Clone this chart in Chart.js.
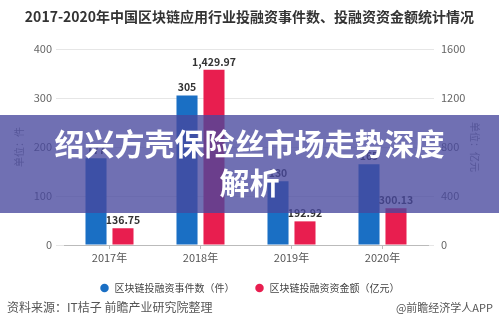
<!DOCTYPE html>
<html>
<head>
<meta charset="utf-8">
<script src="https://cdn.jsdelivr.net/npm/chart.js@4/dist/chart.umd.min.js"></script>
<style>
html,body{margin:0;padding:0;background:#fff;}
#wrap{position:relative;width:499px;height:329px;overflow:hidden;font-family:"Noto Sans CJK SC","Noto Sans",sans-serif;}
#chart{position:absolute;left:0;top:0;}
.title{position:absolute;top:6px;left:0;width:499px;text-align:center;font-size:14px;font-weight:bold;color:#333;line-height:20px;}
.src{position:absolute;top:298px;left:7px;font-size:12px;color:#555;line-height:18px;}
.app{position:absolute;top:298px;right:6px;font-size:11px;color:#555;line-height:18px;}
.banner{position:absolute;left:0;top:115px;width:499px;height:98px;background:rgba(72,72,158,0.78);color:#fff;font-weight:bold;font-size:30px;line-height:39px;text-align:center;box-sizing:border-box;padding-top:8px;}
</style>
</head>
<body>
<div id="wrap">
  <canvas id="chart" width="499" height="329"></canvas>
  <div class="title">2017-2020年中国区块链应用行业投融资事件数、投融资资金额统计情况</div>
  <div class="banner">绍兴方壳保险丝市场走势深度<br>解析</div>
  <div class="src">资料来源：IT桔子 前瞻产业研究院整理</div>
  <div class="app">@前瞻经济学人APP</div>
</div>
<script>
const years = ['2017年', '2018年', '2019年', '2020年'];
const eventCounts = [177, 305, 130, 165];          // 件
const fundAmounts = [136.75, 1429.97, 192.92, 300.13]; // 亿元
const countTicks = [0, 100, 200, 300, 400];
const amountTicks = [0, 400, 800, 1200, 1600];

const FONT = '"Noto Sans CJK SC","Noto Sans",sans-serif';
Chart.defaults.font.family = FONT;

function fmtValue(v, money){
  return money ? v.toLocaleString('en-US', {minimumFractionDigits: 2, maximumFractionDigits: 2}) : String(v);
}

// numbers above each bar
const valueLabels = {
  id: 'valueLabels',
  afterDatasetsDraw(chart){
    const ctx = chart.ctx;
    ctx.save();
    ctx.font = 'bold 10.5px ' + FONT;
    ctx.fillStyle = '#333';
    ctx.textAlign = 'center';
    ctx.textBaseline = 'bottom';
    chart.data.datasets.forEach((ds, i) => {
      chart.getDatasetMeta(i).data.forEach((bar, j) => {
        ctx.fillText(fmtValue(ds.data[j], i === 1), bar.x, bar.y - 3);
      });
    });
    ctx.restore();
  }
};

new Chart(document.getElementById('chart'), {
  type: 'bar',
  data: {
    labels: years,
    datasets: [
      {label: '区块链投融资事件数（件）', data: eventCounts, yAxisID: 'y', backgroundColor: '#1a6fc4', borderWidth: 0},
      {label: '区块链投融资资金额（亿元）', data: fundAmounts, yAxisID: 'y1', backgroundColor: '#e81e4f', borderWidth: 0}
    ]
  },
  options: {
    responsive: false,
    animation: false,
    categoryPercentage: 0.593,
    barPercentage: 0.78,
    layout: {padding: {top: 49, bottom: 26, left: 0, right: 0}},
    plugins: {
      legend: {
        position: 'bottom',
        labels: {usePointStyle: true, pointStyle: 'circle', boxWidth: 10, boxHeight: 6, padding: 20, color: '#444', font: {size: 10}}
      },
      tooltip: {enabled: false}
    },
    scales: {
      x: {
        grid: {display: true, drawOnChartArea: false, offset: false, tickLength: 4, color: '#bbb'},
        border: {color: '#bbb'},
        ticks: {color: '#555', font: {size: 11}, padding: 2},
        afterFit: s => { s.height = 18; }
      },
      y: {
        position: 'left',
        min: 0, max: 400,
        afterBuildTicks: s => { s.ticks = countTicks.map(v => ({value: v})); },
        grid: {color: '#e6e6e6', tickLength: 8},
        border: {display: false},
        ticks: {color: '#666', font: {size: 11}, padding: 4, callback: v => String(v)},
        title: {display: true, text: '单位：件', color: '#888', font: {size: 10}, padding: {top: 13, bottom: 0}},
        afterFit: s => { s.width = 64; }
      },
      y1: {
        position: 'right',
        min: 0, max: 1600,
        afterBuildTicks: s => { s.ticks = amountTicks.map(v => ({value: v})); },
        grid: {drawOnChartArea: false, color: '#e6e6e6', tickLength: 6},
        border: {display: false},
        ticks: {color: '#666', font: {size: 11}, padding: 7, callback: v => String(v)},
        title: {display: true, text: '单位：亿元', color: '#888', font: {size: 10}, padding: {top: 18, bottom: 0}},
        afterFit: s => { s.width = 71; }
      }
    }
  },
  plugins: [valueLabels]
});
</script>
</body>
</html>
